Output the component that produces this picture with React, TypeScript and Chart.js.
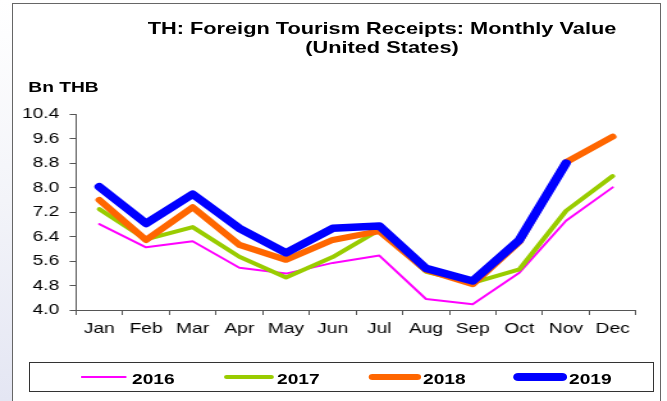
import React, { useEffect, useRef } from "react";
import { Chart, registerables } from "chart.js";
Chart.register(...registerables);

const months = ["Jan", "Feb", "Mar", "Apr", "May", "Jun", "Jul", "Aug", "Sep", "Oct", "Nov", "Dec"];
const yTicks = [4.0, 4.8, 5.6, 6.4, 7.2, 8.0, 8.8, 9.6, 10.4];
const s2016 = [6.81, 6.05, 6.25, 5.38, 5.19, 5.54, 5.78, 4.36, 4.19, 5.22, 6.92, 8.01];
const s2017 = [7.3, 6.31, 6.71, 5.74, 5.06, 5.73, 6.62, 5.25, 4.89, 5.33, 7.24, 8.38];
const s2018 = [7.6, 6.29, 7.36, 6.13, 5.64, 6.29, 6.58, 5.31, 4.84, 6.23, 8.83, 9.67];
const s2019 = [8.03, 6.83, 7.79, 6.67, 5.87, 6.67, 6.75, 5.36, 4.95, 6.29, 8.8, null];
const seriesNames = ["2016", "2017", "2018", "2019"];

const S = 1.28;
const W0 = 667 / S;
const FONT = "'Liberation Sans', Arial, sans-serif";
const AXIS = "#555";

const colors = ["#ff00ff", "#99cc00", "#ff6600", "#0000ff"];
const widths = [2, 4, 6, 7.5];

export default function App() {
  const ref = useRef<HTMLCanvasElement | null>(null);
  useEffect(() => {
    if (!ref.current) return;
    const all = [s2016, s2017, s2018, s2019];
    const chart = new Chart(ref.current, {
      type: "line",
      data: {
        labels: months,
        datasets: all.map((d, i) => ({
          label: seriesNames[i],
          data: d,
          borderColor: colors[i],
          backgroundColor: colors[i],
          borderWidth: widths[i],
          pointRadius: 0,
          tension: 0,
          fill: false,
          spanGaps: false,
          borderCapStyle: "round" as const,
          borderJoinStyle: "round" as const,
          order: 4 - i,
        })),
      },
      options: {
        animation: false,
        responsive: true,
        maintainAspectRatio: false,
        layout: { padding: { left: 0, right: W0 - 636 / S, top: 114.3, bottom: 0 } },
        plugins: {
          legend: { display: false },
          tooltip: { enabled: false },
          title: { display: false },
        },
        scales: {
          x: {
            type: "category",
            offset: true,
            grid: {
              display: true,
              offset: true,
              drawOnChartArea: false,
              drawTicks: true,
              tickLength: 5,
              color: AXIS,
            },
            border: { display: true, color: AXIS, width: 1 },
            ticks: {
              color: "#000",
              font: { family: FONT, size: 15 },
              padding: 5,
              maxRotation: 0,
              autoSkip: false,
            },
            afterFit: (s: any) => {
              s.height = 401 - 310;
            },
          },
          y: {
            min: 4,
            max: 10.4,
            afterBuildTicks: (s: any) => {
              s.ticks = yTicks.map((v) => ({ value: v }));
            },
            grid: {
              display: true,
              drawOnChartArea: false,
              drawTicks: true,
              tickLength: 5,
              color: AXIS,
            },
            border: { display: true, color: AXIS, width: 1 },
            ticks: {
              color: "#000",
              font: { family: FONT, size: 15 },
              padding: 8,
              callback: (v: any) => Number(v).toFixed(1),
            },
            afterFit: (s: any) => {
              s.width = 76 / S;
            },
          },
        },
      },
    });
    return () => chart.destroy();
  }, []);

  const legendItems = [
    { x1: 80, x2: 127, tx: 132 },
    { x1: 224, x2: 274, tx: 277 },
    { x1: 368, x2: 421, tx: 423 },
    { x1: 513, x2: 567, tx: 569 },
  ];

  return (
    <div
      style={{
        position: "fixed",
        left: 0,
        top: 0,
        width: 667,
        height: 401,
        background: "#fff",
        overflow: "hidden",
      }}
    >
      <div
        style={{
          position: "absolute",
          left: 0,
          top: 0,
          width: 12,
          height: 401,
          background: "linear-gradient(to bottom, #ffffff 0%, #f3f4f9 50%, #e4e6f3 100%)",
        }}
      />
      <div
        style={{
          position: "absolute",
          left: 12,
          top: 3,
          width: 660.7 - 12,
          height: 430,
          border: "1.5px solid #666",
          boxSizing: "border-box",
          background: "#fff",
        }}
      />
      <div
        style={{
          position: "absolute",
          left: 28.6,
          top: 362.3,
          width: 654 - 28.6,
          height: 30,
          border: "1px solid #333",
          boxSizing: "border-box",
        }}
      />
      <div
        style={{
          position: "absolute",
          left: 0,
          top: 0,
          width: W0,
          height: 401,
          transform: `scaleX(${S})`,
          transformOrigin: "0 0",
          fontFamily: FONT,
        }}
      >
        <div
          style={{
            position: "absolute",
            left: 382 / S - 200,
            width: 400,
            top: 18.5,
            lineHeight: "20px",
            fontSize: 17,
            fontWeight: "bold",
            textAlign: "center",
            color: "#000",
            whiteSpace: "nowrap",
          }}
        >
          TH: Foreign Tourism Receipts: Monthly Value
        </div>
        <div
          style={{
            position: "absolute",
            left: 382 / S - 200,
            width: 400,
            top: 38,
            lineHeight: "20px",
            fontSize: 17,
            fontWeight: "bold",
            textAlign: "center",
            color: "#000",
            whiteSpace: "nowrap",
          }}
        >
          (United States)
        </div>
        <div
          style={{
            position: "absolute",
            left: 28.3 / S,
            top: 78,
            lineHeight: "18px",
            fontSize: 15,
            fontWeight: "bold",
            color: "#000",
            whiteSpace: "nowrap",
          }}
        >
          Bn THB
        </div>
        <div style={{ position: "absolute", left: 0, top: 0, width: W0, height: 401 }}>
          <canvas ref={ref} />
        </div>
        {legendItems.map((it, i) => (
          <React.Fragment key={i}>
            <div
              style={{
                position: "absolute",
                left: it.x1 / S,
                width: (it.x2 - it.x1) / S,
                top: 377 - widths[i] / 2,
                height: widths[i],
                borderRadius: widths[i] / 2,
                background: colors[i],
              }}
            />
            <div
              style={{
                position: "absolute",
                left: it.tx / S,
                top: 370,
                lineHeight: "18px",
                fontSize: 15,
                fontWeight: "bold",
                color: "#000",
                whiteSpace: "nowrap",
              }}
            >
              {seriesNames[i]}
            </div>
          </React.Fragment>
        ))}
      </div>
    </div>
  );
}
